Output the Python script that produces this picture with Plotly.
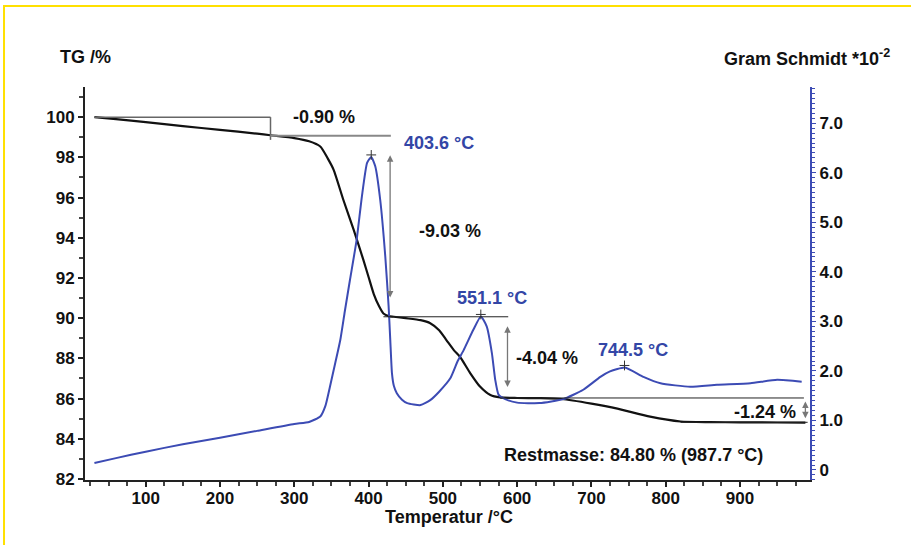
import plotly.graph_objects as go

# ---------------- data ----------------
tg_temp = [31, 60, 100, 150, 200, 250, 268, 300, 320, 335, 345, 353, 366, 380, 393, 400, 407, 414, 420,
           427, 434, 450, 470, 483, 495, 505, 515, 523, 537, 550, 564, 577, 600, 630, 660, 700, 735,
           779, 820, 860, 900, 950, 988]
tg_val = [100.0, 99.9, 99.75, 99.55, 99.37, 99.18, 99.1, 98.96, 98.8, 98.54, 97.95, 97.38, 95.89, 94.39,
          92.9, 92.05, 91.2, 90.6, 90.23, 90.1, 90.07, 90.0, 89.9, 89.75, 89.4, 88.9, 88.4, 88.08, 87.26,
          86.6, 86.18, 86.06, 86.03, 86.02, 85.98, 85.75, 85.5, 85.1, 84.86, 84.83, 84.82, 84.81, 84.80]

gs_temp = [31, 60, 100, 150, 200, 250, 300, 320, 335, 342, 348, 355, 362, 368, 375, 384, 391, 398, 403.6,
           409, 415.7, 422.5, 427, 429.2, 431.5, 434, 438, 445, 452, 470, 483, 495, 510, 520, 528, 541,
           551.1, 559, 566, 570.5, 575, 584, 600, 630, 662, 689, 712, 725, 745, 770, 793, 833, 869, 914,
           950, 983]
gs_val = [0.14, 0.24, 0.37, 0.52, 0.65, 0.79, 0.93, 0.97, 1.08, 1.30, 1.68, 2.15, 2.63, 3.2, 3.84, 4.65,
          5.52, 6.2, 6.32, 6.13, 5.45, 4.31, 3.30, 2.63, 1.95, 1.70, 1.55, 1.42, 1.35, 1.31, 1.41, 1.58,
          1.85, 2.2, 2.42, 2.83, 3.10, 2.9, 2.36, 1.82, 1.52, 1.43, 1.36, 1.35, 1.43, 1.62, 1.88, 1.99,
          2.07, 1.88, 1.75, 1.68, 1.72, 1.75, 1.82, 1.78]

peak_temp = [403.6, 551.1, 744.5]
peak_val = [6.32, 3.10, 2.07]
peak_labels = ["403.6 °C", "551.1 °C", "744.5 °C"]

x_ticks = [100, 200, 300, 400, 500, 600, 700, 800, 900]
y_ticks = [82, 84, 86, 88, 90, 92, 94, 96, 98, 100]
y2_ticks = [0, 1, 2, 3, 4, 5, 6, 7]
y2_ticktext = ["0", "1.0", "2.0", "3.0", "4.0", "5.0", "6.0", "7.0"]

step_levels = [100.0, 99.08, 90.07, 86.03, 84.82]
step_labels = ["-0.90 %", "-9.03 %", "-4.04 %", "-1.24 %"]
rest_label = "Restmasse: 84.80 % (987.7 °C)"

BLUE = "#3c4bb4"
BLUE_TXT = "#3346a6"
FONT = "Liberation Sans, Arial, sans-serif"

fig = go.Figure()
fig.add_trace(go.Scatter(x=gs_temp, y=gs_val, yaxis="y2", mode="lines",
                         line=dict(color=BLUE, width=2, shape="spline", smoothing=0.5),
                         showlegend=False, hoverinfo="skip"))
fig.add_trace(go.Scatter(x=tg_temp, y=tg_val, mode="lines", line=dict(color="#111111", width=2.2, shape="spline", smoothing=0.6),
                         showlegend=False, hoverinfo="skip"))
fig.add_trace(go.Scatter(x=peak_temp, y=[v + 0.04 for v in peak_val], yaxis="y2", mode="markers",
                         marker=dict(symbol="cross-thin", size=7, line=dict(color="#333333", width=1)),
                         showlegend=False, hoverinfo="skip"))

shapes = []
def hline(x0, x1, y, color, w):
    shapes.append(dict(type="line", xref="x", yref="y", x0=x0, x1=x1, y0=y, y1=y,
                       line=dict(color=color, width=w)))
hline(31, 268, step_levels[0], "#666666", 1.5)
shapes.append(dict(type="line", xref="x", yref="y", x0=268, x1=268, y0=step_levels[0], y1=98.87,
                   line=dict(color="#666666", width=1.5)))
hline(268, 430, step_levels[1], "#888888", 2)
hline(420, 588, step_levels[2], "#222222", 1)
hline(577, 986, step_levels[3], "#222222", 1)
hline(820, 991, step_levels[4], "#222222", 1)

# yellow frame
shapes.append(dict(type="rect", xref="paper", yref="paper", x0=-0.1117, x1=1.3, y0=-0.3, y1=1.2061,
                   line=dict(color="#ffe000", width=2)))

annotations = []
def arrow(x, y_top, y_bot):
    annotations.append(dict(x=x, y=y_top, ax=x, ay=y_bot, xref="x", yref="y", axref="x", ayref="y",
                            text="", showarrow=True, arrowhead=2, startarrowhead=2, arrowside="end+start",
                            arrowsize=1, arrowwidth=1.3, arrowcolor="#777777"))
arrow(429, 98.1, 90.95)
arrow(587, 89.6, 86.5)
arrow(988, 85.85, 84.95)

def txt(x, y, s, color="#111111", size=18, yref="y"):
    annotations.append(dict(x=x, y=y, xref="x", yref=yref, text=s, showarrow=False, xanchor="left",
                            yanchor="middle", font=dict(family=FONT, size=size, color=color, weight="bold")))
txt(295, 100.0, step_labels[0])
txt(465, 94.34, step_labels[1])
txt(596, 88.02, step_labels[2])
txt(889, 85.35, step_labels[3])
txt(445, 98.72, peak_labels[0], BLUE_TXT)
txt(517, 91.0, peak_labels[1], BLUE_TXT)
txt(706, 88.42, peak_labels[2], BLUE_TXT)
txt(579, 83.19, rest_label)

def ptxt(x, y, s, xanchor="left"):
    annotations.append(dict(x=x, y=y, xref="paper", yref="paper", text=s, showarrow=False, xanchor=xanchor,
                            yanchor="middle", font=dict(family=FONT, size=18, color="#111111", weight="bold")))
ptxt(-0.0375, 1.0763, "TG /%")
ptxt(0.878, 1.0763, "Gram Schmidt *10<sup>-2</sup>")
ptxt(0.502, -0.0941, "Temperatur /°C", "center")

tickfont = dict(family=FONT, size=17, color="#111111", weight="bold")
fig.update_layout(
    width=911, height=545,
    margin=dict(l=85, r=101, t=87, b=65),
    paper_bgcolor="white", plot_bgcolor="white",
    shapes=shapes, annotations=annotations,
    xaxis=dict(range=[18.3, 994.2], tickvals=x_ticks, ticks="outside", ticklen=5, tickwidth=1.5,
               tickcolor="#222222", showline=True, linecolor="#222222", linewidth=2, showgrid=False,
               zeroline=False, tickfont=tickfont, ticklabelstandoff=-3,
               minor=dict(dtick=25, tick0=0, ticks="outside", ticklen=4, tickcolor="#444444", showgrid=False)),
    yaxis=dict(range=[81.95, 101.5], tickvals=y_ticks, ticks="outside", ticklen=5, tickwidth=1.5,
               tickcolor="#222222", showline=True, linecolor="#222222", linewidth=2, showgrid=False,
               zeroline=False, tickfont=tickfont,
               minor=dict(dtick=1, tick0=82, ticks="outside", ticklen=4, tickcolor="#444444", showgrid=False)),
    yaxis2=dict(range=[-0.202, 7.731], overlaying="y", side="right", tickvals=y2_ticks, ticktext=y2_ticktext,
                ticks="outside", ticklen=4, tickwidth=1.2, tickcolor=BLUE, showline=True, linecolor=BLUE,
                linewidth=2, showgrid=False, zeroline=False, tickfont=tickfont,
                minor=dict(dtick=0.1, tick0=0, ticks="outside", ticklen=3, tickcolor=BLUE, showgrid=False)),
)

fig.write_html("out.html")
